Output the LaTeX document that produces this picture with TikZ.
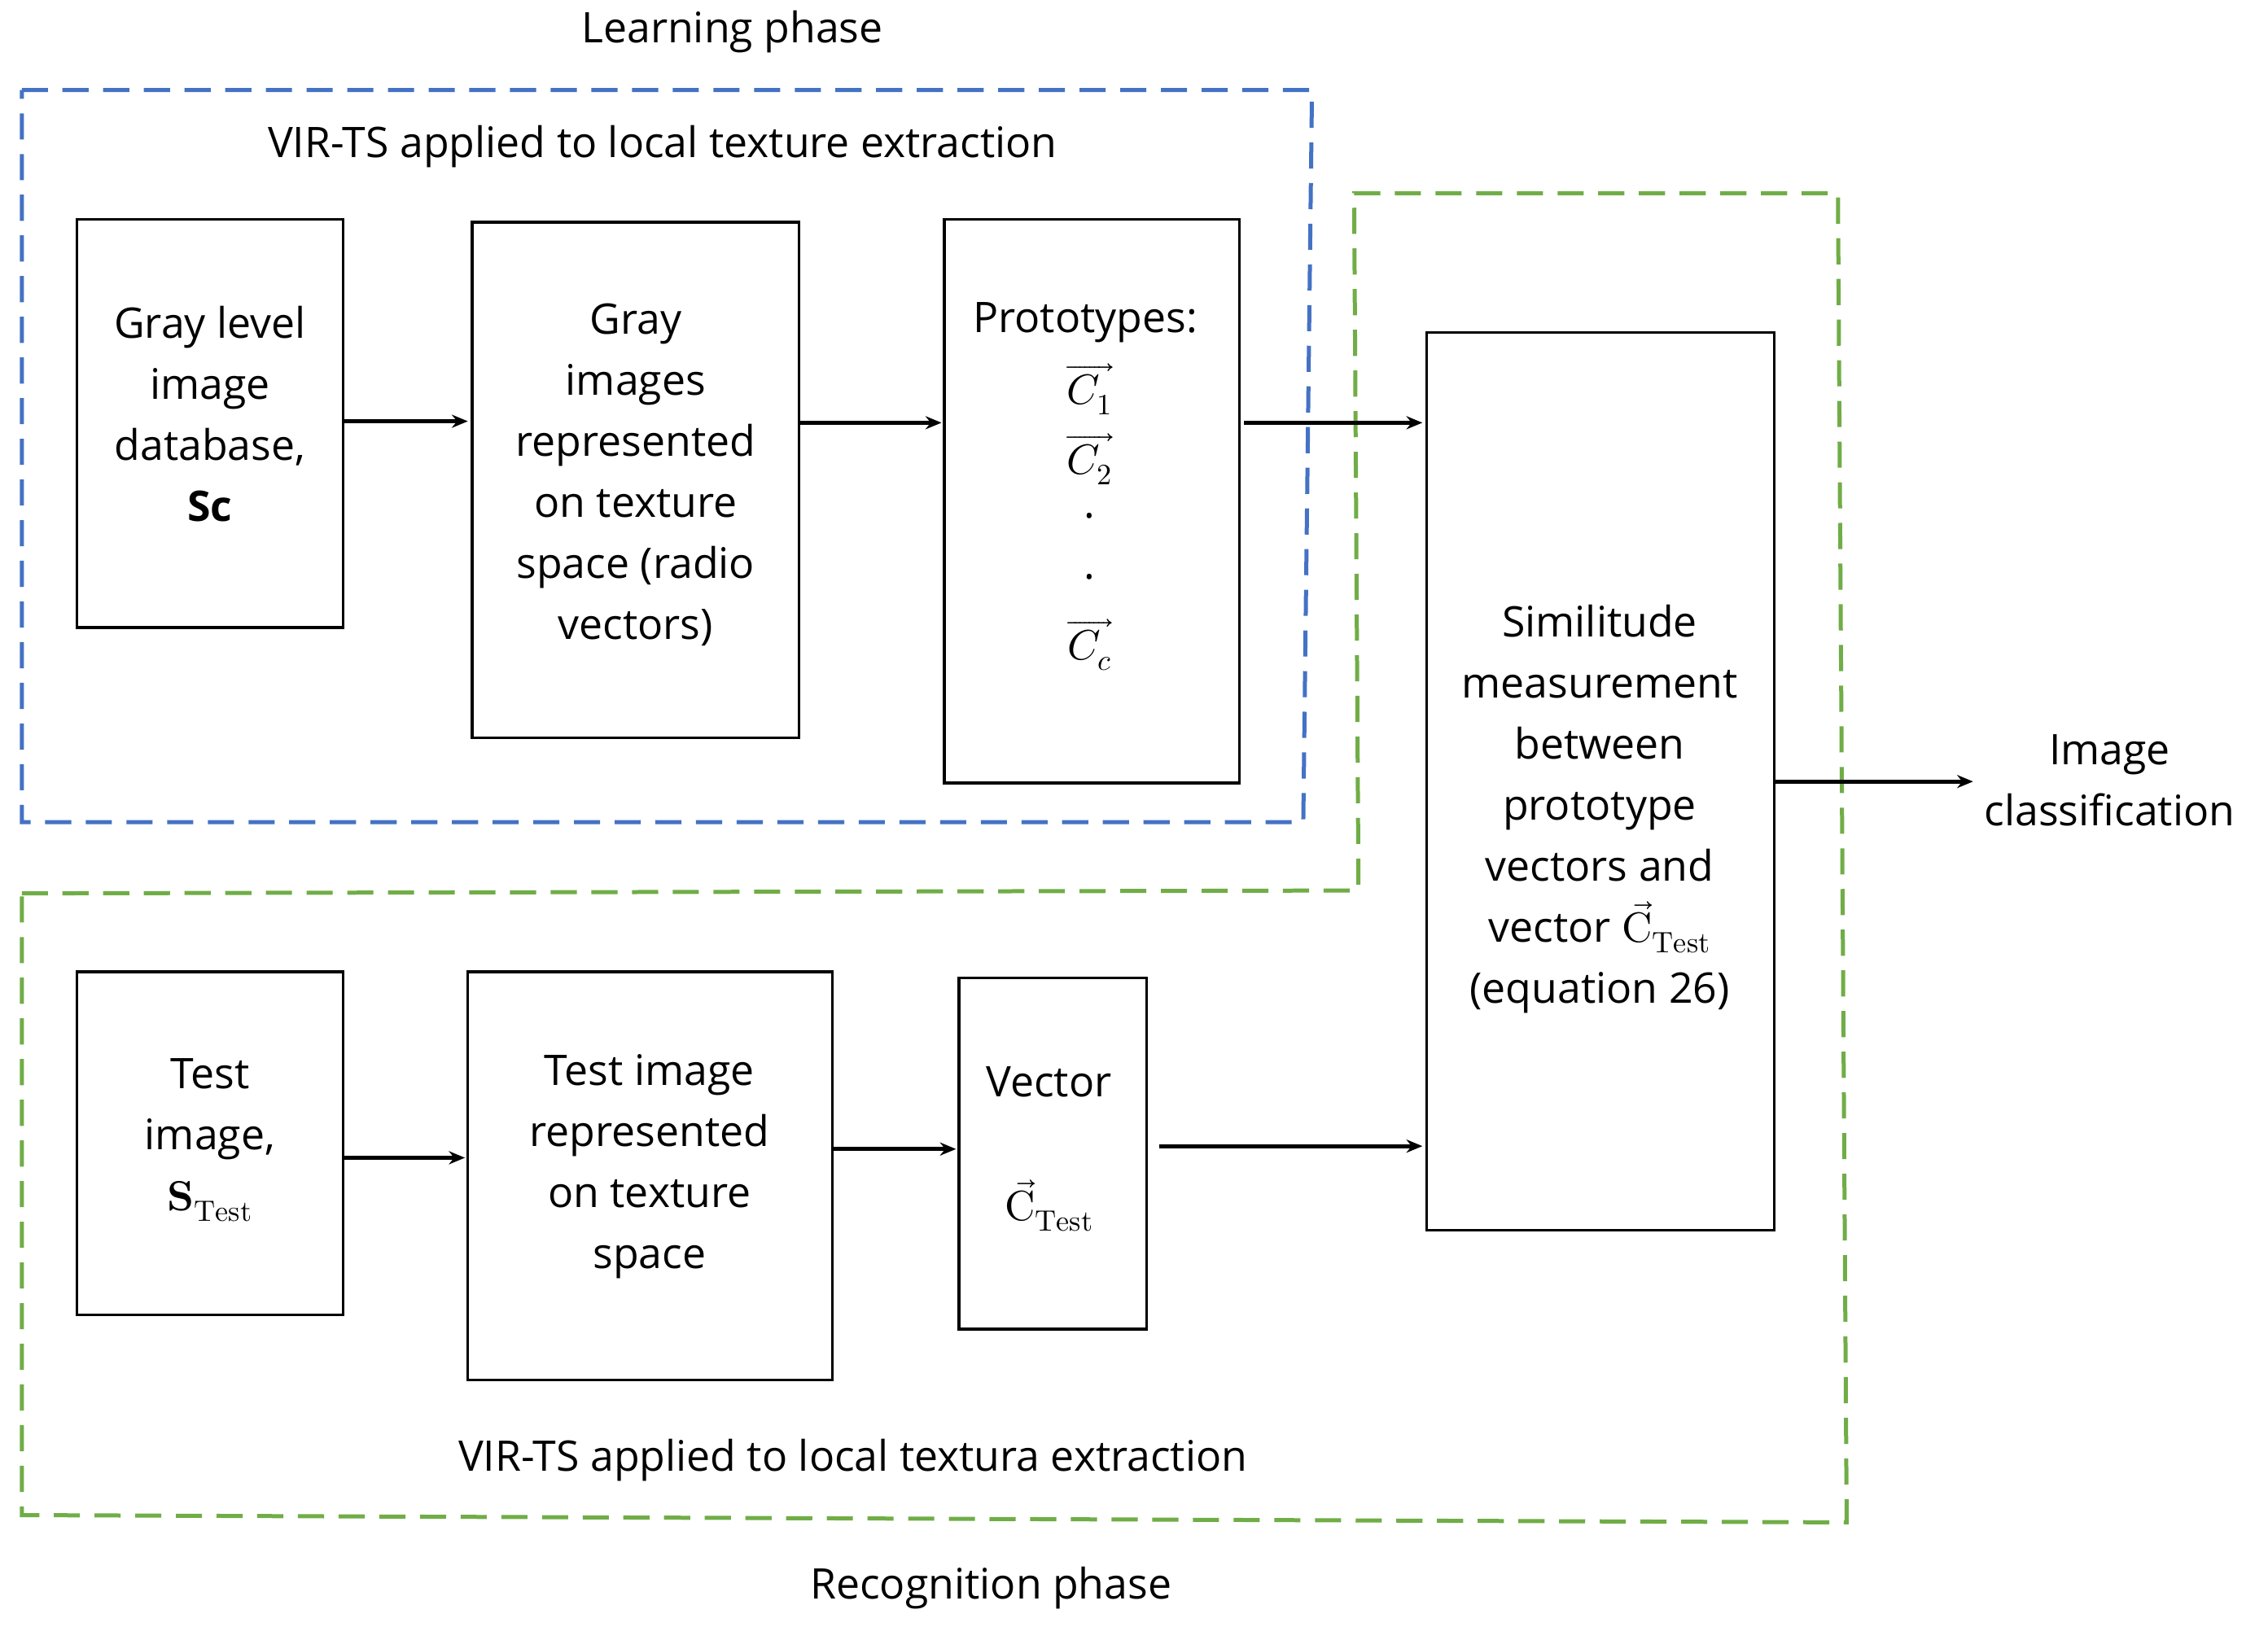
\documentclass[tikz,border=0pt]{standalone}
\usepackage{amsmath}
\usepackage{fontspec}
\usepackage{unicode-math}
\setmainfont{Open Sans}
\setmathfont{Latin Modern Math}
\usetikzlibrary{arrows.meta}
\begin{document}
\begin{tikzpicture}[x=1pt,y=-1pt,
  box/.style={draw,line width=1.8pt,align=center,inner sep=0pt},
  arr/.style={line width=3pt,-{Stealth[length=11pt,width=9pt]}},
  dashblue/.style={draw={rgb,255:red,68;green,114;blue,196},line width=2.8pt,dash pattern=on 18pt off 10pt},
  dashgreen/.style={draw={rgb,255:red,112;green,173;blue,71},line width=2.8pt,dash pattern=on 18pt off 10pt},
  lbl/.style={font=\fontsize{29}{42}\selectfont,align=center}]
\useasboundingbox (0,0) rectangle (1561,1120);
\draw[dashblue] (15,62) -- (903,62) -- (897,566) -- (15,566) -- cycle;
\draw[dashgreen] (15,615) -- (935,613) -- (932,133) -- (1265,133) -- (1271,1048) -- (15,1043) -- cycle;
\node[lbl] (lp) at (504,22) {Learning phase};
\node[lbl] (t1) at (456,101) {VIR-TS applied to local texture extraction};
\node[lbl] (t2) at (587,1005) {VIR-TS applied to local textura extraction};
\node[lbl] (rp) at (682,1093) {Recognition phase};
\node[lbl] (ic) at (1452,537) {Image\\classification};
\draw[box] (53,151) rectangle (236,432); \node[lbl] (a) at (144.5,285) {Gray level\\image\\database,\\\textbf{Sc}};
\draw[box] (325,153) rectangle (550,508); \node[lbl] (b) at (437.5,327) {Gray\\images\\represented\\on texture\\space (radio\\vectors)};
\draw[box] (650,151) rectangle (853,539); \node[lbl] (c) at (747,222) {Prototypes:};
\node[lbl] (c1) at (750,268) {$\overrightarrow{C_1}$};
\node[lbl] (c2) at (750,316) {$\overrightarrow{C_2}$};
\node[lbl] (d1) at (750,355) {.};
\node[lbl] (d2) at (750,397) {.};
\node[lbl] (cc) at (750,444) {$\overrightarrow{C_c}$};
\draw[box] (982,229) rectangle (1221,847); \node[lbl] (s) at (1101,557) {Similitude\\measurement\\between\\prototype\\vectors and\\vector $\vec{\symup{C}}_{\symup{Test}}$\\(equation 26)};
\draw[box] (53,669) rectangle (236,905); \node[lbl] (e) at (144.5,785) {Test\\image,\\$\symbf{S}_{\symup{Test}}$};
\draw[box] (322,669) rectangle (573,950); \node[lbl] (f) at (447,803) {Test image\\represented\\on texture\\space};
\draw[box] (660,673) rectangle (789,915); \node[lbl] (g) at (722,745) {Vector};
\node[lbl] (g2) at (722,830) {$\vec{\symup{C}}_{\symup{Test}}$};
\coordinate (p1) at (236,290); \coordinate (q1) at (322,290);
\coordinate (p2) at (550,291); \coordinate (q2) at (648,291);
\coordinate (p3) at (856,291); \coordinate (q3) at (979,291);
\coordinate (p4) at (236,797); \coordinate (q4) at (320,797);
\coordinate (p5) at (573,791); \coordinate (q5) at (658,791);
\coordinate (p6) at (798,789); \coordinate (q6) at (979,789);
\coordinate (p7) at (1221,538); \coordinate (q7) at (1358,538);
\foreach \i in {1,...,7} {\draw[arr] (p\i) -- (q\i);}
\end{tikzpicture}
\end{document}
